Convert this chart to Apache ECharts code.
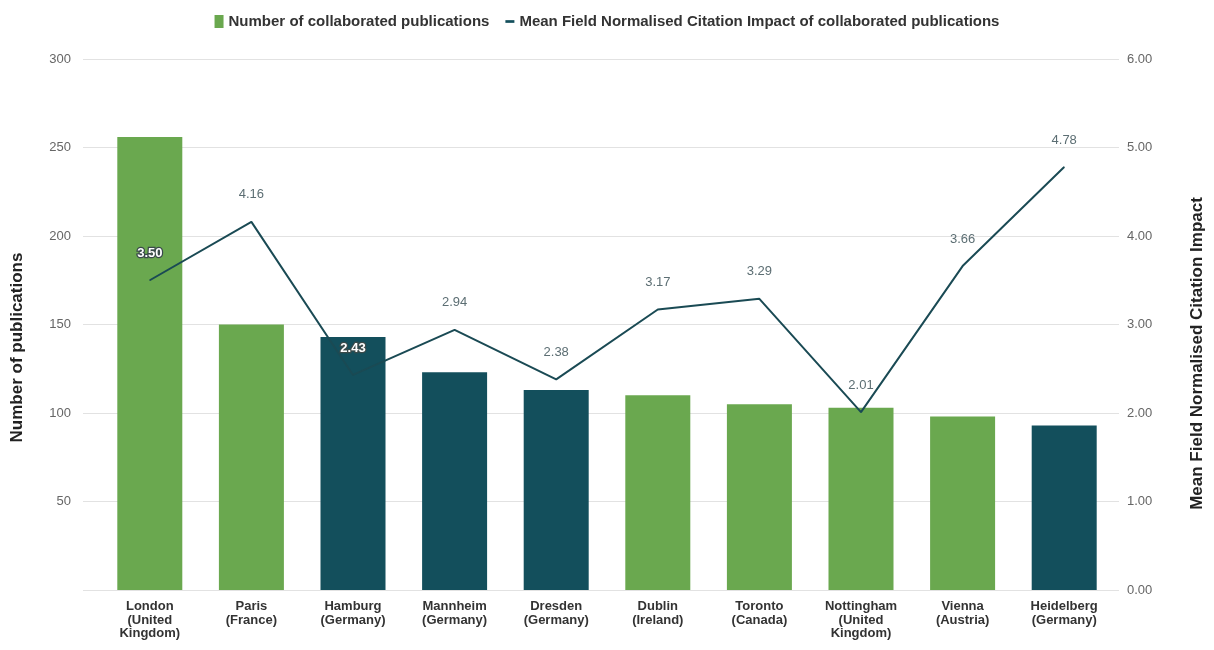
<!DOCTYPE html>
<html>
<head>
<meta charset="utf-8">
<script src="https://cdn.jsdelivr.net/npm/echarts@6/dist/echarts.min.js"></script>
<style>
html,body{margin:0;padding:0;background:#fff;}
#chart{width:1214px;height:650px;}
</style>
</head>
<body>
<div id="chart"></div>
<script>
const categories = [
  'London\n(United\nKingdom)', 'Paris\n(France)', 'Hamburg\n(Germany)', 'Mannheim\n(Germany)',
  'Dresden\n(Germany)', 'Dublin\n(Ireland)', 'Toronto\n(Canada)', 'Nottingham\n(United\nKingdom)',
  'Vienna\n(Austria)', 'Heidelberg\n(Germany)'
];
const publications = [256, 150, 143, 123, 113, 110, 105, 103, 98, 93];
const citationImpact = [3.50, 4.16, 2.43, 2.94, 2.38, 3.17, 3.29, 2.01, 3.66, 4.78];
const leftTicks = { min: 0, max: 300, interval: 50 };
const rightTicks = { min: 0, max: 6, interval: 1 };
const seriesNames = ['Number of collaborated publications', 'Mean Field Normalised Citation Impact of collaborated publications'];

const GREEN = '#6aa84f', TEAL = '#134f5c', LINE = '#1a4a54';
const FONT = 'Liberation Sans';

const barData = publications.map((v, i) => ({
  value: v,
  itemStyle: { color: categories[i].indexOf('Germany') >= 0 ? TEAL : GREEN }
}));
const lineData = citationImpact.map((v, i) => {
  const onLeft = v / rightTicks.max * leftTicks.max;
  const inside = onLeft + 16 < publications[i];
  return inside ? {
    value: v,
    label: { color: '#ffffff', textBorderColor: '#3a4a4a', textBorderWidth: 2.5, fontWeight: 'bold' }
  } : { value: v };
});

const chart = echarts.init(document.getElementById('chart'), null, { renderer: 'canvas' });
chart.setOption({
  animation: false,
  textStyle: { fontFamily: FONT },
  legend: {
    top: 9, left: 'center',
    itemWidth: 9, itemHeight: 13, itemGap: 16,
    textStyle: { fontFamily: FONT, fontSize: 15, fontWeight: 'bold', color: '#333' },
    data: [
      { name: seriesNames[0], icon: 'rect', itemStyle: { color: GREEN } },
      { name: seriesNames[1], icon: 'path://M0,0h10v3h-10z', itemStyle: { color: TEAL } }
    ]
  },
  grid: [
    { left: 83, right: 87, top: 59, bottom: 60 },
    { left: 99, right: 99, top: 59, bottom: 60 }
  ],
  xAxis: [
    { gridIndex: 0, type: 'value', show: false, min: 0, max: 1 },
    {
      gridIndex: 1, type: 'category', data: categories,
      axisLine: { show: false }, axisTick: { show: false },
      axisLabel: { interval: 0, color: '#333', fontSize: 13, fontWeight: 'bold', lineHeight: 13.5, margin: 10, fontFamily: FONT }
    }
  ],
  yAxis: [
    {
      gridIndex: 0, type: 'value', position: 'left',
      min: leftTicks.min, max: leftTicks.max, interval: leftTicks.interval,
      name: 'Number of publications', nameLocation: 'middle', nameGap: 57, nameRotate: 90,
      nameTextStyle: { fontFamily: FONT, fontSize: 17, fontWeight: 'bold', color: '#222', padding: [0, 46, 0, 0] },
      axisLine: { show: false }, axisTick: { show: false },
      axisLabel: { margin: 12, color: '#666', fontSize: 13, fontFamily: FONT, formatter: v => v === 0 ? '' : String(v) },
      splitLine: { show: true, lineStyle: { color: '#e2e2e2', width: 1 } }
    },
    {
      gridIndex: 0, type: 'value', position: 'right',
      min: rightTicks.min, max: rightTicks.max, interval: rightTicks.interval,
      name: 'Mean Field Normalised Citation Impact', nameLocation: 'middle', nameGap: 70, nameRotate: 90,
      nameTextStyle: { fontFamily: FONT, fontSize: 17, fontWeight: 'bold', color: '#222', padding: [0, 58, 0, 0] },
      axisLine: { show: false }, axisTick: { show: false },
      axisLabel: { margin: 8, color: '#666', fontSize: 13, fontFamily: FONT, formatter: v => v.toFixed(2) },
      splitLine: { show: false }
    },
    { gridIndex: 1, type: 'value', min: leftTicks.min, max: leftTicks.max, show: false, splitLine: { show: false } },
    { gridIndex: 1, type: 'value', min: rightTicks.min, max: rightTicks.max, show: false, splitLine: { show: false } }
  ],
  series: [
    {
      name: seriesNames[0], type: 'bar', xAxisIndex: 1, yAxisIndex: 2,
      data: barData, barWidth: 65, itemStyle: { color: GREEN }
    },
    {
      name: seriesNames[1], type: 'line', xAxisIndex: 1, yAxisIndex: 3,
      data: lineData, symbol: 'circle', symbolSize: 1, showSymbol: true,
      lineStyle: { color: LINE, width: 2 }, itemStyle: { color: LINE },
      label: {
        show: true, position: 'top', distance: 20, fontSize: 13, color: '#5c6e73', fontFamily: FONT,
        formatter: p => Number(p.value).toFixed(2)
      },
      z: 3
    }
  ]
});
</script>
</body>
</html>
